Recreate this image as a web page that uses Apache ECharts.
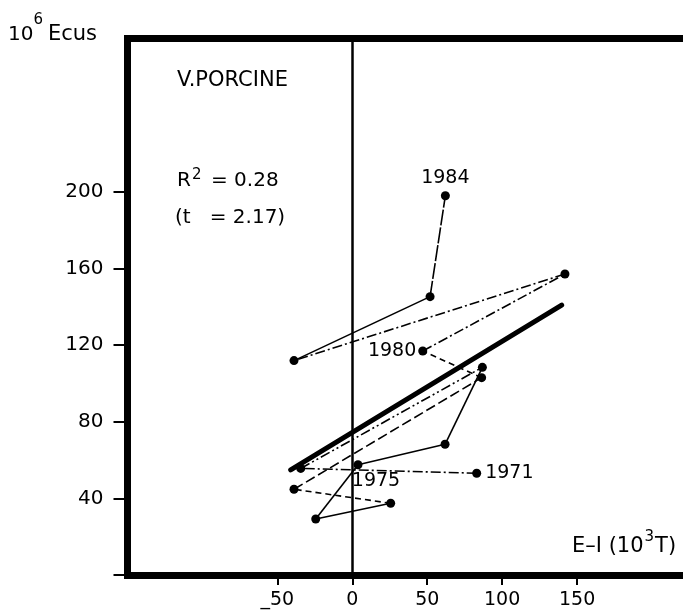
<!DOCTYPE html>
<html>
<head>
<meta charset="utf-8">
<script src="https://cdn.jsdelivr.net/npm/echarts@6/dist/echarts.min.js"></script>
<style>
html,body{margin:0;padding:0;background:#fff;}
#chart{width:683px;height:616px;}
</style>
</head>
<body>
<div id="chart"></div>
<script>
// ---------------- DATA ----------------
const years = [1971, 1972, 1973, 1974, 1975, 1976, 1977, 1978, 1979, 1980, 1981, 1982, 1983, 1984];
// E–I balance (10^3 T)
const balanceEI = [83, -34.4, 86.8, 61.9, 3.8, -24.4, 25.6, -38.9, 86.3, 47, 141.9, -38.9, 51.9, 62.1];
// value (10^6 Ecus)
const valueEcus = [53.1, 55.6, 108.4, 68.2, 57.5, 29.2, 37.4, 44.7, 103.0, 116.9, 157.1, 111.9, 145.3, 198.0];
const labelledYears = [1971, 1975, 1980, 1984];
// fitted regression line end points
const regressionX = [-41.1, 139.7];
const regressionY = [54.8, 140.9];
const zeroLineX = 0;
// axes
const xTickValues = [-50, 0, 50, 100, 150];
const yTickValues = [0, 40, 80, 120, 160, 200];
const yLabelValues = [40, 80, 120, 160, 200];
const xRange = [-150, 220];
const yRange = [0, 280];

// ---------------- STYLE ----------------
const FONT = 'DejaVu Sans';
const BLACK = '#000';
const SOLID = 'solid';
const DASH = [6, 4];
const LONGDASH = [10, 4];
const DASHDOT = [10, 3, 2, 3];
const DASHDOTDOT = [10, 3, 2, 3, 2, 3];
const NEARSOLID = [16, 2];
const segmentDash = [DASHDOT, DASHDOTDOT, SOLID, SOLID, SOLID, SOLID, DASH, LONGDASH, DASH, DASHDOT, DASHDOT, SOLID, NEARSOLID];
const labelPlacement = {
  1971: {position: 'right', distance: 4},
  1975: {position: 'bottom', distance: 2, offset: [18, 0]},
  1980: {position: 'left', distance: 2},
  1984: {position: 'top', distance: 4}
};

// text measuring for superscripts
const mctx = document.createElement('canvas').getContext('2d');
function textWidth(t, size) {
  mctx.font = size + 'px "' + FONT + '"';
  return mctx.measureText(t).width;
}
function textPieces(x, parts) {
  const els = [];
  let cx = x;
  parts.forEach(p => {
    if (p.x !== undefined) cx = p.x;
    els.push({
      type: 'text', x: cx, y: p.y, silent: true,
      style: {text: p.t, fill: BLACK, font: p.size + 'px "' + FONT + '"', verticalAlign: 'middle', align: 'left'}
    });
    cx += textWidth(p.t, p.size) + (p.gap || 0);
  });
  return els;
}

const graphics = [].concat(
  textPieces(8, [{t: '10', y: 35, size: 20, gap: 0}, {t: '6', y: 20, size: 15}, {t: 'Ecus', x: 48, y: 35, size: 21}]),
  textPieces(177, [{t: 'V.PORCINE', y: 81, size: 21}]),
  textPieces(177, [{t: 'R', y: 181, size: 20, gap: 1}, {t: '2', y: 175, size: 15}, {t: '= 0.28', x: 211, y: 181, size: 20}]),
  textPieces(175, [{t: '(t   = 2.17)', y: 218, size: 20}]),
  textPieces(572, [{t: 'E–I (10', y: 547, size: 21, gap: 1}, {t: '3', y: 537, size: 15, gap: 1}, {t: 'T)', y: 547, size: 21}])
);

// ---------------- SERIES ----------------
const series = [];
for (let i = 0; i < years.length - 1; i++) {
  series.push({
    type: 'line', silent: true, symbol: 'none', z: 2,
    data: [[balanceEI[i], valueEcus[i]], [balanceEI[i + 1], valueEcus[i + 1]]],
    lineStyle: {color: BLACK, width: 1.6, type: segmentDash[i], opacity: 1}
  });
}
series.push({
  type: 'line', silent: true, symbol: 'none', z: 3,
  data: regressionX.map((x, i) => [x, regressionY[i]]),
  lineStyle: {color: BLACK, width: 5, cap: 'round', opacity: 1},
  markLine: {
    silent: true, symbol: 'none', label: {show: false},
    lineStyle: {color: BLACK, width: 2.5, type: 'solid', opacity: 1},
    data: [{xAxis: zeroLineX}]
  }
});
series.push({
  type: 'scatter', symbol: 'circle', symbolSize: 9, z: 4,
  itemStyle: {color: BLACK, opacity: 1},
  data: years.map((yr, i) => {
    const item = {value: [balanceEI[i], valueEcus[i]], name: String(yr)};
    if (labelledYears.includes(yr)) {
      item.label = Object.assign({
        show: true, formatter: String(yr), color: BLACK, opacity: 1, fontFamily: FONT, fontSize: 19
      }, labelPlacement[yr]);
    }
    return item;
  })
});

const option = {
  animation: false,
  backgroundColor: '#fff',
  grid: {left: 127.5, top: 38.7, width: 554.5, bottom: 41.1, containLabel: false},
  xAxis: [{
    type: 'value', min: xRange[0], max: xRange[1], position: 'bottom',
    axisLine: {show: true, onZero: false, lineStyle: {color: BLACK, width: 7, cap: 'square'}},
    axisTick: {show: true, length: 10, customValues: xTickValues, lineStyle: {color: BLACK, width: 2}},
    axisLabel: {
      customValues: xTickValues, margin: 16, color: BLACK, fontFamily: FONT, fontSize: 19,
      formatter: v => (v < 0 ? '_' + Math.abs(v) : String(v))
    },
    splitLine: {show: false}
  }, {
    type: 'value', min: xRange[0], max: xRange[1], position: 'top',
    axisLine: {show: true, onZero: false, lineStyle: {color: BLACK, width: 7, cap: 'square'}},
    axisTick: {show: false}, axisLabel: {show: false}, splitLine: {show: false}
  }],
  yAxis: {
    type: 'value', min: yRange[0], max: yRange[1], position: 'left',
    axisLine: {show: true, onZero: false, lineStyle: {color: BLACK, width: 7, cap: 'square'}},
    axisTick: {show: true, length: 14, customValues: yTickValues, lineStyle: {color: BLACK, width: 2}},
    axisLabel: {customValues: yLabelValues, margin: 24, color: BLACK, fontFamily: FONT, fontSize: 20},
    splitLine: {show: false}
  },
  graphic: graphics,
  series: series
};

const chart = echarts.init(document.getElementById('chart'), null, {renderer: 'canvas'});
chart.setOption(option);
</script>
</body>
</html>
